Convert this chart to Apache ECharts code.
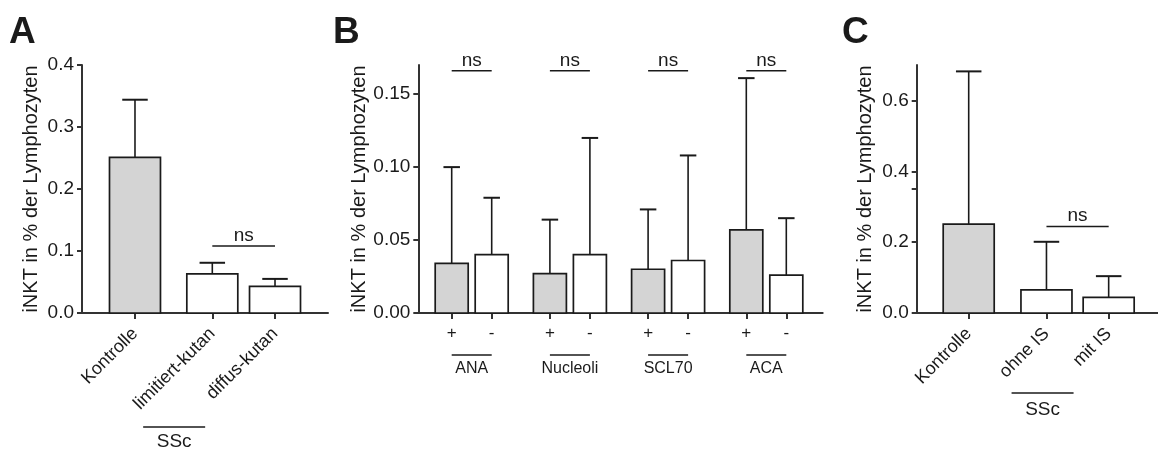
<!DOCTYPE html>
<html>
<head>
<meta charset="utf-8">
<script src="https://cdn.jsdelivr.net/npm/echarts@6/dist/echarts.min.js"></script>
<style>
  html, body { margin: 0; background: #fff; }
  #chart { width: 1158px; height: 455px; }
</style>
</head>
<body>
<div id="chart"></div>
<script>
// ---- panel A: Kontrolle vs. SSc subtypes ----
const catsA = ['Kontrolle', 'limitiert-kutan', 'diffus-kutan'];
const meanA = [0.251, 0.063, 0.043];
const sdA = [0.093, 0.018, 0.012];
const grayA = [1, 0, 0];
const ticksA = [0, 0.1, 0.2, 0.3, 0.4];
const nsA = 0.108;

// ---- panel B: autoantibodies, + / - ----
const groupsB = ['ANA', 'Nucleoli', 'SCL70', 'ACA'];
const signsB = ['+', '-'];
const meanBpos = [0.034, 0.027, 0.030, 0.057];
const sdBpos = [0.066, 0.037, 0.041, 0.104];
const meanBneg = [0.040, 0.040, 0.036, 0.026];
const sdBneg = [0.039, 0.080, 0.072, 0.039];
const ticksB = [0, 0.05, 0.10, 0.15];
const nsB = 0.166;

// ---- panel C: immunosuppression ----
const catsC = ['Kontrolle', 'ohne IS', 'mit IS'];
const meanC = [0.251, 0.065, 0.044];
const sdC = [0.431, 0.136, 0.060];
const grayC = [1, 0, 0];
const ticksC = [0, 0.2, 0.4, 0.6];
const tickMarksC = [0, 0.2, 0.35, 0.4, 0.6];
const nsC = 0.244;

const yTitle = 'iNKT in % der Lymphozyten';

const FONT = '"Liberation Sans", Arial, Helvetica, sans-serif';
const INK = '#1a1a1a';
const AXIS = '#333';
const GRAY = '#d4d4d4';

// slot positions on the hidden x value axes (1 unit = distance of neighbour bars)
const posA = catsA.map((c, i) => (i === 0 ? 0 : i + 0.233));
const posC = catsC.map((c, i) => (i === 0 ? 0 : i + 0.25));
const posB = [];
const labelsB = [];
groupsB.forEach((g, gi) => signsB.forEach((s, si) => {
  posB.push(gi * 2.455 + si);
  labelsB.push(s);
}));

const barsA = catsA.map((c, i) => [posA[i], meanA[i], meanA[i] + sdA[i], grayA[i]]);
const barsC = catsC.map((c, i) => [posC[i], meanC[i], meanC[i] + sdC[i], grayC[i]]);
const barsB = [];
groupsB.forEach((g, gi) => {
  barsB.push([posB[gi * 2], meanBpos[gi], meanBpos[gi] + sdBpos[gi], 1]);
  barsB.push([posB[gi * 2 + 1], meanBneg[gi], meanBneg[gi] + sdBneg[gi], 0]);
});

function labelFor(pos, names) {
  return v => {
    const i = pos.findIndex(p => Math.abs(p - v) < 1e-6);
    return i < 0 ? '' : names[i];
  };
}

function barRenderer(barW) {
  return function (params, api) {
    const x = api.value(0);
    const top = api.coord([x, api.value(1)]);
    const base = api.coord([x, 0]);
    const eTop = api.coord([x, api.value(2)]);
    const w = api.size([barW, 0])[0];
    const cap = w / 4;
    return {
      type: 'group',
      children: [
        { type: 'line', shape: { x1: top[0], y1: top[1], x2: top[0], y2: eTop[1] },
          style: { stroke: INK, lineWidth: 1.6 } },
        { type: 'line', shape: { x1: top[0] - cap, y1: eTop[1], x2: top[0] + cap, y2: eTop[1] },
          style: { stroke: INK, lineWidth: 2 } },
        { type: 'rect', shape: { x: top[0] - w / 2, y: top[1], width: w, height: base[1] - top[1] },
          style: { fill: api.value(3) ? GRAY : '#fff', stroke: INK, lineWidth: 1.7 } }
      ]
    };
  };
}

function nsRenderer(params, api) {
  const a = api.coord([api.value(0), api.value(2)]);
  const b = api.coord([api.value(1), api.value(2)]);
  return {
    type: 'group',
    children: [
      { type: 'line', shape: { x1: a[0], y1: a[1], x2: b[0], y2: b[1] },
        style: { stroke: INK, lineWidth: 1.5 } },
      { type: 'text', x: (a[0] + b[0]) / 2, y: a[1] - 1,
        style: { text: 'ns', font: '19px ' + FONT, fill: INK, align: 'center', verticalAlign: 'bottom' } }
    ]
  };
}

// bracket below the axis: o.half set => centred line of fixed half width, shifted
function groupRenderer(names, o) {
  return function (params, api) {
    const a = api.coord([api.value(0), 0]);
    const b = api.coord([api.value(1), 0]);
    let x1 = a[0], x2 = b[0];
    if (o.half) {
      const c = (x1 + x2) / 2 + o.shift;
      x1 = c - o.half;
      x2 = c + o.half;
    }
    const y = a[1] + o.lineDy;
    return {
      type: 'group',
      children: [
        { type: 'line', shape: { x1: x1, y1: y, x2: x2, y2: y }, style: { stroke: INK, lineWidth: 1.5 } },
        { type: 'text', x: (x1 + x2) / 2, y: a[1] + o.textDy,
          style: { text: names[params.dataIndex], font: o.size + 'px ' + FONT, fill: INK,
                   align: 'center', verticalAlign: 'middle' } }
      ]
    };
  };
}

function yAxis(gi, max, labels, marks, digits, gap) {
  return {
    type: 'value', gridIndex: gi, min: 0, max: max,
    name: yTitle, nameLocation: 'middle', nameGap: gap,
    nameTextStyle: { fontSize: 20, fontFamily: FONT, color: INK },
    axisLine: { show: true, onZero: false, lineStyle: { color: AXIS, width: 2 } },
    axisTick: { show: true, length: 5, customValues: marks, lineStyle: { color: AXIS, width: 2 } },
    axisLabel: { fontSize: 19, fontFamily: FONT, color: INK, margin: 8, customValues: labels,
                 formatter: v => v.toFixed(digits) },
    splitLine: { show: false }
  };
}

function xAxis(gi, min, max, pos, names, rotate, margin, size) {
  return {
    type: 'value', gridIndex: gi, min: min, max: max,
    axisLine: { show: true, onZero: false, lineStyle: { color: AXIS, width: 2 } },
    axisTick: { show: true, length: 6, customValues: pos, lineStyle: { color: AXIS, width: 2 } },
    axisLabel: { show: true, customValues: pos, formatter: labelFor(pos, names), rotate: rotate,
                 margin: margin, fontSize: size, fontFamily: FONT, color: INK,
                 showMinLabel: true, showMaxLabel: true, hideOverlap: false },
    splitLine: { show: false }
  };
}

const chart = echarts.init(document.getElementById('chart'), null, { renderer: 'canvas' });

chart.setOption({
  backgroundColor: '#fff',
  animation: false,
  grid: [
    { left: 82, top: 65, width: 246, height: 248, outerBoundsMode: 'none' },
    { left: 418.3, top: 65, width: 404.4, height: 248, outerBoundsMode: 'none' },
    { left: 916.7, top: 65, width: 241.3, height: 248, outerBoundsMode: 'none' }
  ],
  xAxis: [
    xAxis(0, -0.845, 3.078, posA, catsA, 45, 18, 18),
    xAxis(1, -0.835, 9.275, posB, labelsB, 0, 12, 17),
    xAxis(2, -0.836, 3.043, posC, catsC, 45, 18, 18)
  ],
  yAxis: [
    yAxis(0, 0.4, ticksA, ticksA, 1, 41),
    yAxis(1, 0.17, ticksB, ticksB, 2, 45),
    yAxis(2, 0.7, ticksC, tickMarksC, 1, 41)
  ],
  graphic: [
    { type: 'text', left: 9, top: 14, style: { text: 'A', font: 'bold 37px ' + FONT, fill: INK } },
    { type: 'text', left: 333, top: 14, style: { text: 'B', font: 'bold 37px ' + FONT, fill: INK } },
    { type: 'text', left: 842, top: 14, style: { text: 'C', font: 'bold 37px ' + FONT, fill: INK } }
  ],
  series: [
    { type: 'custom', xAxisIndex: 0, yAxisIndex: 0, data: barsA, renderItem: barRenderer(0.813) },
    { type: 'custom', xAxisIndex: 1, yAxisIndex: 1, data: barsB, renderItem: barRenderer(0.825) },
    { type: 'custom', xAxisIndex: 2, yAxisIndex: 2, data: barsC, renderItem: barRenderer(0.82) },
    { type: 'custom', xAxisIndex: 0, yAxisIndex: 0, data: [[posA[1], posA[2], nsA]], renderItem: nsRenderer },
    { type: 'custom', xAxisIndex: 1, yAxisIndex: 1,
      data: groupsB.map((g, gi) => [posB[gi * 2], posB[gi * 2 + 1], nsB]), renderItem: nsRenderer },
    { type: 'custom', xAxisIndex: 2, yAxisIndex: 2, data: [[posC[1], posC[2], nsC]], renderItem: nsRenderer },
    { type: 'custom', xAxisIndex: 0, yAxisIndex: 0, data: [[posA[1], posA[2]]],
      renderItem: groupRenderer(['SSc'], { half: 31, shift: -69.5, lineDy: 114, textDy: 129, size: 19 }) },
    { type: 'custom', xAxisIndex: 1, yAxisIndex: 1,
      data: groupsB.map((g, gi) => [posB[gi * 2], posB[gi * 2 + 1]]),
      renderItem: groupRenderer(groupsB, { lineDy: 42, textDy: 56, size: 16 }) },
    { type: 'custom', xAxisIndex: 2, yAxisIndex: 2, data: [[posC[1], posC[2]]],
      renderItem: groupRenderer(['SSc'], { half: 31, shift: -35, lineDy: 80, textDy: 97, size: 19 }) }
  ]
});
</script>
</body>
</html>
